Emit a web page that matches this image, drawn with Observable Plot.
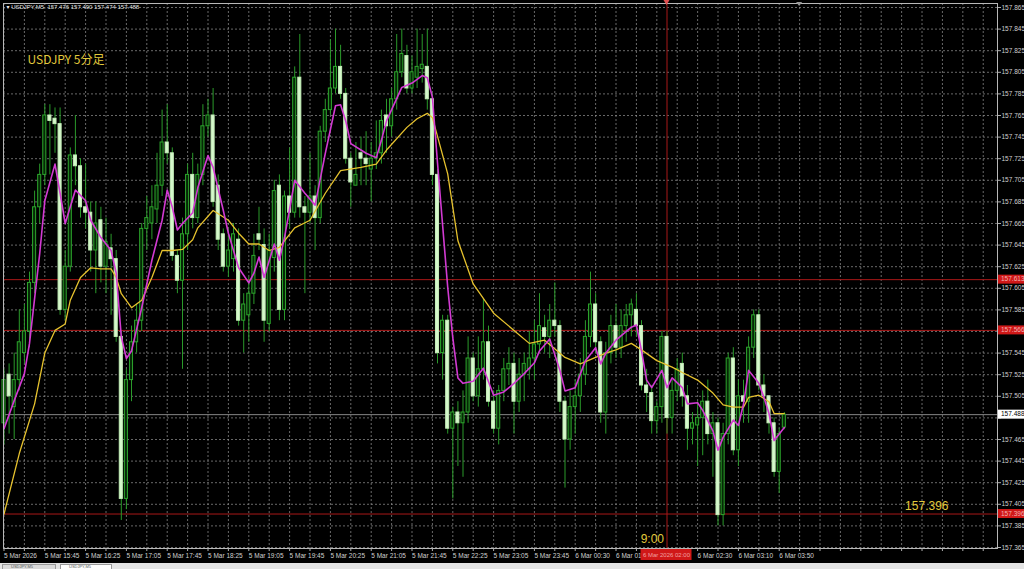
<!DOCTYPE html>
<html><head><meta charset="utf-8">
<script src="https://cdn.jsdelivr.net/npm/d3@7"></script>
<script src="https://cdn.jsdelivr.net/npm/@observablehq/plot@0.6"></script>
<style>
html,body{margin:0;padding:0;background:#000;width:1024px;height:569px;overflow:hidden;}
#chart svg{display:block;}
#tabs{height:6px;background:#e4e4e4;position:relative;overflow:hidden;}
#tabs span{position:absolute;top:1px;height:6px;border:1px solid #9a9a9a;border-bottom:none;font:4px/4px "Liberation Sans",sans-serif;color:#555;padding-left:8px;box-sizing:border-box;}
</style></head>
<body>
<div id="chart"></div>
<div id="tabs"><span style="left:2px;width:54px;background:#dadada">USDJPY,M5</span><span style="left:60px;width:52px;background:#fff">USDJPY,M5</span></div>
<script>
// ---- data (USDJPY M5, 5 Mar 2026 15:05 -> 6 Mar 2026 03:55) ----
const barOpen = [
157.480,157.525,157.495,157.520,157.545,157.565,157.610,157.680,157.710,157.765,
157.762,157.757,157.585,157.625,157.728,157.718,157.680,157.675,157.640,157.668,
157.625,157.642,157.632,157.560,157.410,157.520,157.555,157.575,157.660,157.665,
157.678,157.700,157.740,157.730,157.635,157.612,157.655,157.710,157.670,157.710,
157.755,157.765,157.700,157.655,157.625,157.632,157.650,157.575,157.580,157.600,
157.655,157.645,157.572,157.633,157.700,157.585,157.690,157.675,157.800,157.680,
157.675,157.690,157.670,157.750,157.770,157.790,157.810,157.785,157.725,157.700,
157.730,157.725,157.715,157.725,157.730,157.765,157.755,157.780,157.805,157.820,
157.790,157.800,157.808,157.810,157.780,157.710,157.545,157.575,157.475,157.490,
157.480,157.490,157.540,157.505,157.530,157.555,157.500,157.475,157.510,157.530,
157.535,157.500,157.525,157.530,157.540,157.553,157.568,157.560,157.575,157.570,
157.500,157.465,157.495,157.505,157.525,157.560,157.590,157.555,157.490,157.545,
157.570,157.550,157.570,157.580,157.585,157.570,157.515,157.508,157.482,157.495,
157.560,157.485,157.510,157.535,157.505,157.475,157.478,157.485,157.500,157.470,
157.480,157.395,157.470,157.540,157.455,157.505,157.500,157.550,157.580,157.515,
157.505,157.480,157.435,157.476];
const barHigh = [
157.530,157.535,157.545,157.585,157.590,157.620,157.695,157.720,157.775,157.775,
157.772,157.772,157.640,157.735,157.765,157.725,157.720,157.685,157.685,157.680,
157.670,157.655,157.640,157.565,157.530,157.570,157.590,157.665,157.690,157.700,
157.730,157.770,157.775,157.735,157.640,157.670,157.720,157.730,157.720,157.775,
157.780,157.790,157.710,157.660,157.660,157.665,157.660,157.600,157.615,157.655,
157.680,157.660,157.655,157.705,157.710,157.695,157.735,157.810,157.840,157.690,
157.730,157.700,157.755,157.780,157.835,157.845,157.830,157.790,157.730,157.740,
157.745,157.750,157.740,157.760,157.770,157.780,157.790,157.840,157.845,157.830,
157.820,157.845,157.840,157.845,157.785,157.715,157.580,157.580,157.495,157.500,
157.510,157.560,157.545,157.560,157.595,157.570,157.510,157.515,157.540,157.550,
157.545,157.540,157.545,157.565,157.575,157.600,157.580,157.590,157.610,157.575,
157.505,157.510,157.520,157.540,157.575,157.620,157.600,157.560,157.555,157.580,
157.590,157.585,157.590,157.595,157.600,157.575,157.530,157.515,157.500,157.565,
157.565,157.520,157.540,157.545,157.515,157.490,157.500,157.510,157.520,157.490,
157.485,157.480,157.545,157.550,157.520,157.520,157.560,157.585,157.585,157.525,
157.505,157.485,157.475,157.490];
const barLow = [
157.460,157.470,157.465,157.510,157.535,157.550,157.600,157.665,157.700,157.710,
157.730,157.580,157.575,157.620,157.700,157.670,157.660,157.620,157.600,157.610,
157.600,157.580,157.555,157.390,157.400,157.500,157.545,157.565,157.640,157.650,
157.665,157.690,157.720,157.630,157.600,157.530,157.640,157.660,157.665,157.700,
157.745,157.680,157.640,157.620,157.615,157.620,157.570,157.545,157.555,157.590,
157.640,157.555,157.565,157.620,157.575,157.575,157.660,157.670,157.670,157.600,
157.665,157.640,157.665,157.740,157.765,157.785,157.780,157.720,157.680,157.700,
157.700,157.700,157.685,157.715,157.720,157.730,157.745,157.770,157.800,157.785,
157.785,157.790,157.795,157.770,157.700,157.535,157.520,157.470,157.410,157.440,
157.430,157.480,157.500,157.495,157.520,157.495,157.470,157.460,157.500,157.515,
157.470,157.490,157.500,157.520,157.520,157.545,157.545,157.540,157.560,157.490,
157.420,157.455,157.470,157.490,157.515,157.550,157.545,157.480,157.470,157.535,
157.540,157.540,157.555,157.560,157.560,157.510,157.490,157.470,157.470,157.480,
157.470,157.470,157.500,157.495,157.455,157.460,157.440,157.450,157.460,157.430,
157.385,157.385,157.460,157.450,157.440,157.480,157.480,157.540,157.510,157.490,
157.470,157.430,157.415,157.474];
const barClose = [
157.520,157.505,157.520,157.555,157.565,157.610,157.680,157.710,157.765,157.760,
157.757,157.585,157.625,157.728,157.718,157.680,157.675,157.640,157.665,157.625,
157.648,157.632,157.560,157.410,157.520,157.555,157.575,157.660,157.670,157.680,
157.700,157.740,157.730,157.635,157.612,157.655,157.710,157.670,157.710,157.755,
157.765,157.685,157.650,157.625,157.640,157.655,157.575,157.590,157.600,157.635,
157.650,157.575,157.640,157.695,157.585,157.690,157.675,157.800,157.680,157.675,
157.690,157.670,157.750,157.770,157.790,157.810,157.785,157.725,157.703,157.710,
157.725,157.720,157.725,157.730,157.760,157.755,157.780,157.805,157.822,157.790,
157.805,157.810,157.812,157.780,157.710,157.545,157.575,157.475,157.490,157.480,
157.490,157.540,157.505,157.530,157.555,157.500,157.475,157.510,157.530,157.535,
157.500,157.525,157.535,157.540,157.553,157.570,157.560,157.575,157.570,157.500,
157.465,157.495,157.505,157.525,157.560,157.590,157.555,157.490,157.545,157.570,
157.550,157.570,157.580,157.590,157.570,157.515,157.508,157.482,157.495,157.560,
157.485,157.510,157.530,157.505,157.475,157.480,157.485,157.500,157.470,157.480,
157.395,157.470,157.540,157.455,157.505,157.500,157.550,157.580,157.515,157.505,
157.480,157.435,157.470,157.488];

// moving averages: [bar index, price]
const fastMaBar = [0,2,4,5,7,8,10,11,12,14,16,17,19,21,22,23,24,25,27,29,31,32,33,34,35,37,38,40,41,43,44,46,48,49,50,51,53,54,55,57,59,61,63,65,66,67,68,71,73,74,75,78,80,82,83,84,85,87,88,89,90,92,94,96,98,100,102,104,105,107,109,110,112,114,116,117,118,120,123,124,125,126,127,129,130,131,133,134,136,137,139,140,141,143,144,145,146,148,149,150,151,152,153];
const fastMaVal = [157.475,157.501,157.526,157.554,157.637,157.686,157.720,157.693,157.665,157.696,157.686,157.668,157.652,157.640,157.619,157.560,157.540,157.547,157.587,157.631,157.668,157.696,157.680,157.659,157.665,157.675,157.698,157.728,157.717,157.677,157.656,157.624,157.610,157.619,157.634,157.615,157.646,157.631,157.652,157.705,157.693,157.682,157.730,157.774,157.775,157.760,157.739,157.730,157.726,157.742,157.760,157.791,157.795,157.802,157.800,157.782,157.721,157.606,157.559,157.522,157.517,157.519,157.531,157.506,157.509,157.517,157.526,157.536,157.547,157.558,157.529,157.510,157.513,157.538,157.550,157.535,157.545,157.557,157.569,157.571,157.547,157.520,157.513,157.529,157.513,157.522,157.513,157.498,157.499,157.492,157.473,157.455,157.467,157.483,157.478,157.498,157.529,157.517,157.504,157.489,157.464,157.470,157.476];
const slowMaBar = [0,3,6,8,10,12,13,15,17,19,21,22,23,25,27,29,31,33,35,37,38,41,44,46,48,50,52,54,57,60,63,66,70,73,75,79,81,83,84,87,89,92,96,100,103,106,110,113,116,118,120,123,125,128,131,133,136,139,141,143,145,146,148,150,151,153];
const slowMaVal = [157.396,157.452,157.498,157.545,157.566,157.572,157.594,157.615,157.624,157.623,157.623,157.615,157.600,157.587,157.594,157.615,157.640,157.640,157.641,157.650,157.661,157.677,157.668,157.656,157.646,157.646,157.640,157.643,157.661,157.668,157.693,157.714,157.717,157.720,157.733,157.754,157.762,157.767,157.763,157.711,157.649,157.609,157.582,157.566,157.554,157.557,157.541,157.535,157.541,157.545,157.548,157.554,157.548,157.538,157.532,157.527,157.520,157.508,157.497,157.495,157.495,157.504,157.506,157.500,157.489,157.489];

const priceTicks = [157.365,157.385,157.405,157.425,157.445,157.465,157.485,157.505,157.525,157.545,157.565,157.585,157.605,157.625,157.645,157.665,157.685,157.705,157.725,157.745,157.765,157.785,157.805,157.825,157.845,157.865];
// "6 Mar 01:" is the visible part of the 01:10 label; the 01:50 label is hidden by the red time stamp
const timeLabelBar = [0,8,16,24,32,40,48,56,64,72,80,88,96,104,112,120,136,144,152];
const timeLabels = ["5 Mar 2026","5 Mar 15:45","5 Mar 16:25","5 Mar 17:05","5 Mar 17:45","5 Mar 18:25","5 Mar 19:05","5 Mar 19:45","5 Mar 20:25","5 Mar 21:05","5 Mar 21:45","5 Mar 22:25","5 Mar 23:05","5 Mar 23:45","6 Mar 00:30","6 Mar 01:","6 Mar 02:30","6 Mar 03:10","6 Mar 03:50"];
const lineLevels = [157.613, 157.566, 157.396];
const sessionBar = 130;           // 6 Mar 02:00 server = 9:00 JST
const sessionText = "9:00";
const sessionStamp = "6 Mar 2026 02:00";
const levelText = "157.396";
const titleText = "USDJPY 5分足";
const symbolText = "USDJPY,M5";

// ---- build ----
const bars = barOpen.map((o, i) => ({i, open: o, high: barHigh[i], low: barLow[i], close: barClose[i], bull: barClose[i] >= o}));
const fastMa = fastMaBar.map((b, k) => ({i: b, v: fastMaVal[k]}));
const slowMa = slowMaBar.map((b, k) => ({i: b, v: slowMaVal[k]}));
const last = bars[bars.length - 1];
const gridBars = d3.range(0, 196, 4);
const labelAt = new Map(timeLabelBar.map((b, k) => [b, timeLabels[k]]));
const header = `▾ ${symbolText}  ${last.open.toFixed(3)} ${last.high.toFixed(3)} ${last.low.toFixed(3)} ${last.close.toFixed(3)}`;
const boxedPrices = [...lineLevels, last.close];
const hiddenTick = t => boxedPrices.some(b => Math.abs(b - t) < 0.005);

const GRID = {stroke: "#8c8c8c", strokeOpacity: 0.75, strokeDasharray: "2,2", strokeWidth: 1};
const RED = "#a81818";
const font = "'Liberation Sans', 'DejaVu Sans', sans-serif";

const chart = Plot.plot({
  width: 1024, height: 563,
  marginLeft: 3, marginRight: 27, marginTop: 3, marginBottom: 15,
  style: {background: "#000", color: "#c8c8c8", fontFamily: font, overflow: "visible"},
  x: {domain: [-0.098, 194.8], axis: null},
  y: {domain: [157.36407, 157.8687], axis: null},
  marks: [
    Plot.gridY(priceTicks, GRID),
    Plot.gridX(gridBars, GRID),
    Plot.ruleY(lineLevels, {stroke: RED, strokeWidth: 1}),
    Plot.ruleY([last.close], {stroke: "#a8a8a8", strokeWidth: 0.8}),
    Plot.ruleX([sessionBar], {stroke: RED, strokeWidth: 1}),
    Plot.ruleX(bars, {x: "i", y1: "low", y2: "high", stroke: "#2a9a2a", strokeWidth: 1}),
    Plot.rect(bars, {
      x1: d => d.i - 0.3, x2: d => d.i + 0.3, y1: "open", y2: "close",
      fill: d => d.bull ? "#062806" : "#d6f8cc",
      stroke: d => d.bull ? "#2ca52c" : "#c4efb8", strokeWidth: 1
    }),
    Plot.line(slowMa, {x: "i", y: "v", stroke: "#e6c22e", strokeWidth: 1.3}),
    Plot.line(fastMa, {x: "i", y: "v", stroke: "#d23ad2", strokeWidth: 1.6}),
    Plot.frame({stroke: "#b8b8b8", strokeWidth: 1}),
    Plot.axisY(priceTicks, {anchor: "right", tickFormat: d => hiddenTick(d) ? "" : d.toFixed(3), tickSize: 3, tickPadding: 1,
      fontSize: 6.5, fill: "#d0d0d0", stroke: "#b0b0b0", label: null, textAnchor: "start"}),
    Plot.axisX(gridBars.filter(b => b <= 192), {anchor: "bottom", tickFormat: b => labelAt.get(b) ?? "",
      tickSize: 3, tickPadding: 2, fontSize: 6.5, fill: "#d0d0d0", stroke: "#b0b0b0", textAnchor: "start", label: null}),
    Plot.text([header], {frameAnchor: "top-left", dx: 3, dy: 1, lineAnchor: "top", textAnchor: "start",
      fill: "#e0e0e0", fontSize: 6}),
    Plot.text([titleText], {frameAnchor: "top-left", dx: 24, dy: 57, lineAnchor: "middle", textAnchor: "start",
      fill: "#e2c93c", fontSize: 12, fontFamily: "'Noto Sans CJK JP', sans-serif"}),
    Plot.text([lineLevels[2]], {y: d => d, frameAnchor: "right", dx: -49, dy: -4, lineAnchor: "bottom", textAnchor: "end",
      text: () => levelText, fill: "#e2c93c", fontSize: 12}),
    Plot.text([sessionBar], {x: d => d, frameAnchor: "bottom", dx: -3, dy: -6, lineAnchor: "bottom", textAnchor: "end",
      text: () => sessionText, fill: "#e2c93c", fontSize: 12})
  ]
});

// axis label boxes drawn through the plot's own scales
const svg = d3.select(chart);
const ys = chart.scale("y"), xs = chart.scale("x");
const boxG = svg.append("g").attr("font-family", font).attr("font-size", 6.5).attr("text-anchor", "start");
lineLevels.forEach(v => {
  const y = ys.apply(v);
  boxG.append("rect").attr("x", 998).attr("y", y - 4.5).attr("width", 26).attr("height", 9).attr("fill", "#d01818");
  boxG.append("text").attr("x", 1001).attr("y", y + 2.3).attr("text-anchor", "start").attr("fill", "#f3b0b0").text(v.toFixed(3));
});
{
  const y = ys.apply(last.close);
  boxG.append("rect").attr("x", 998).attr("y", y - 4.5).attr("width", 26).attr("height", 9).attr("fill", "#ffffff");
  boxG.append("text").attr("x", 1001).attr("y", y + 2.3).attr("text-anchor", "start").attr("fill", "#000").text(last.close.toFixed(3));
}
{
  const x = xs.apply(sessionBar);
  boxG.append("rect").attr("x", x - 26).attr("y", 549).attr("width", 51).attr("height", 11).attr("fill", "#d01818");
  boxG.append("text").attr("x", x).attr("y", 557).attr("text-anchor", "middle").attr("font-size", 6).attr("fill", "#f0a0a0").text(sessionStamp);
  boxG.append("path").attr("d", `M${x - 3},0 L${x + 3},0 L${x},5 Z`).attr("fill", "#e05050");
  const xShift = xs.apply(last.i + 3);
  boxG.append("path").attr("d", `M${xShift - 3},2 L${xShift + 3},2 L${xShift},6 Z`).attr("fill", "#9a9a9a");
}
document.getElementById("chart").append(chart);
</script>
</body></html>
